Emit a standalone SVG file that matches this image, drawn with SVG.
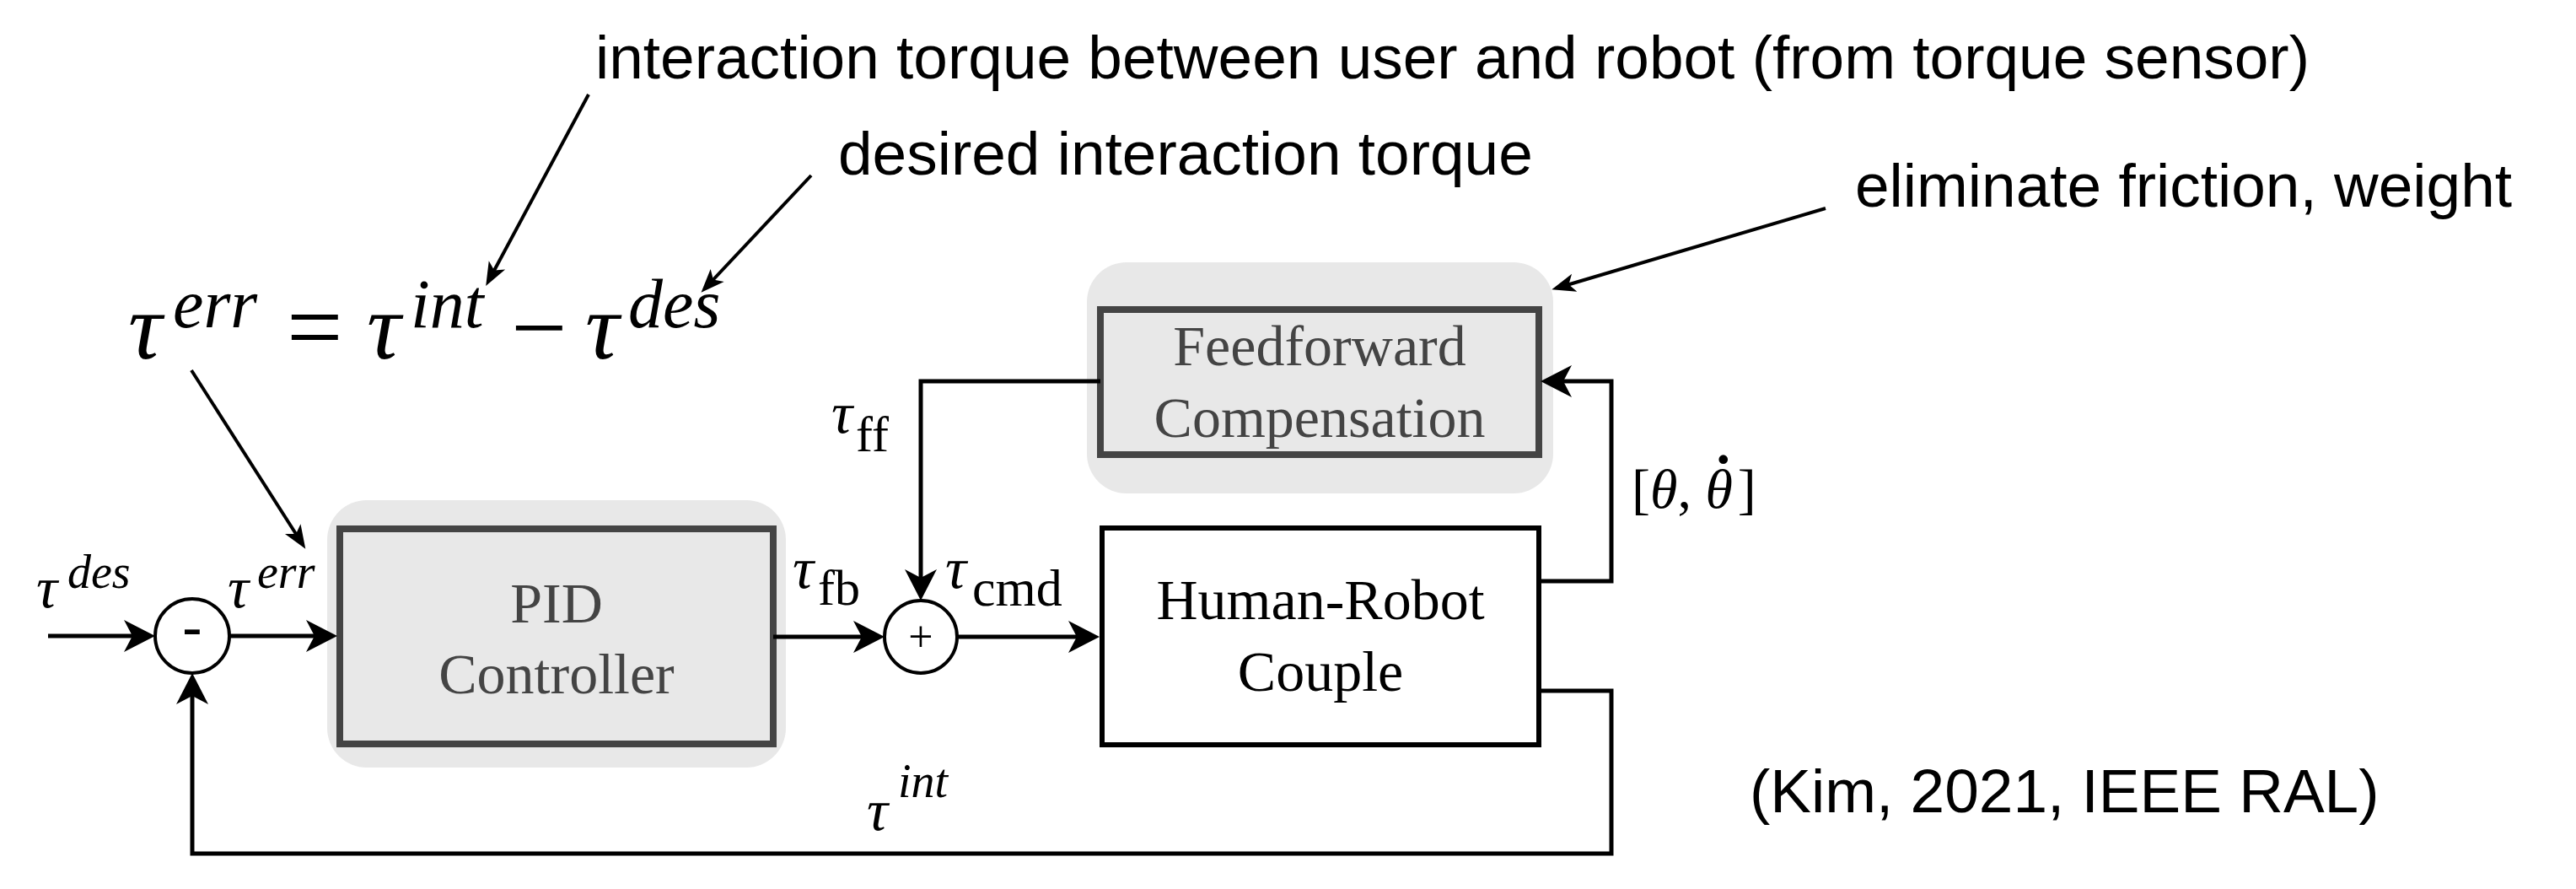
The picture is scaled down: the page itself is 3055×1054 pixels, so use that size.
<svg xmlns="http://www.w3.org/2000/svg" width="3055" height="1054" viewBox="0 0 3055 1054">
<style>
.ann{font-family:"Liberation Sans",Arial,sans-serif;font-size:73px;fill:#000}
.mi{font-family:"Liberation Serif","Times New Roman",serif;font-style:italic;fill:#000}
.mu{font-family:"Liberation Serif","Times New Roman",serif;fill:#000}
.bx{font-family:"Liberation Serif","Times New Roman",serif;font-size:68px;text-anchor:middle}
.bg{fill:#e8e8e8}
.gbox{fill:#e8e8e8;stroke:#444;stroke-width:8}
.wbox{fill:#fff;stroke:#000;stroke-width:6}
.sum{fill:#fff;stroke:#000;stroke-width:4}
.wire{fill:none;stroke:#000;stroke-width:5;marker-end:url(#ah)}
.pt{fill:none;stroke:#000;stroke-width:4;marker-end:url(#ah2)}
</style>
<defs>
<marker id="ah" markerUnits="userSpaceOnUse" viewBox="-38 -20 39 40" refX="-10" refY="0" markerWidth="39" markerHeight="40" orient="auto">
<path d="M0,0 L-37,-19 L-27,0 L-37,19 Z" fill="#000"/>
</marker>
<marker id="ah2" markerUnits="userSpaceOnUse" viewBox="-30 -13 31 26" refX="-8" refY="0" markerWidth="31" markerHeight="26" orient="auto">
<path d="M0,0 L-28,-11 L-21,0 L-28,11 Z" fill="#000"/>
</marker>
</defs>
<rect width="3055" height="1054" fill="#fff"/>

<g id="annotations">
<text class="ann" x="706" y="93">interaction torque between user and robot (from torque sensor)</text>
<text class="ann" x="994" y="207">desired interaction torque</text>
<text class="ann" x="2200" y="245">eliminate friction, weight</text>
<text class="ann" x="2075" y="963">(Kim, 2021, IEEE RAL)</text>
</g>

<g id="equation">
<text class="mi" font-size="112" x="152" y="425">τ</text>
<text class="mi" font-size="82" x="205" y="388">err</text>
<text class="mu" font-size="118" x="340" y="428">=</text>
<text class="mi" font-size="112" x="435" y="425">τ</text>
<text class="mi" font-size="82" x="487" y="388">int</text>
<text class="mu" font-size="118" x="606" y="428">−</text>
<text class="mi" font-size="112" x="694" y="425">τ</text>
<text class="mi" font-size="82" x="745" y="388">des</text>
</g>

<g id="pointers">
<line class="pt" x1="698" y1="112" x2="580" y2="332"/>
<line class="pt" x1="962" y1="208" x2="837" y2="341"/>
<line class="pt" x1="227" y1="439" x2="358" y2="644"/>
<line class="pt" x1="2165" y1="247" x2="1848" y2="341"/>
</g>

<g id="pid">
<rect class="bg" x="388" y="593" width="544" height="317" rx="47"/>
<rect class="gbox" x="403" y="627" width="514" height="255"/>
<text class="bx" x="660" y="738" fill="#444">PID</text>
<text class="bx" x="660" y="822" fill="#444">Controller</text>
</g>

<g id="feedforward">
<rect class="bg" x="1289" y="311" width="553" height="274" rx="47"/>
<rect class="gbox" x="1305" y="367" width="520" height="172"/>
<text class="bx" x="1565" y="433" fill="#444">Feedforward</text>
<text class="bx" x="1565" y="518" fill="#444">Compensation</text>
</g>

<g id="human-robot">
<rect class="wbox" x="1307" y="626" width="518" height="257"/>
<text class="bx" x="1566" y="734" fill="#000">Human-Robot</text>
<text class="bx" x="1566" y="819" fill="#000">Couple</text>
</g>

<g id="sum-minus">
<circle class="sum" cx="228" cy="754" r="44"/>
<text class="ann" x="228" y="768" font-size="44" text-anchor="middle">-</text>
</g>

<g id="sum-plus">
<circle class="sum" cx="1092" cy="755" r="43"/>
<text class="mu" x="1092" y="772" font-size="52" text-anchor="middle">+</text>
</g>

<g id="connectors">
<path class="wire" d="M57,754 H174"/>
<path class="wire" d="M272,754 H390"/>
<path class="wire" d="M917,755 H1039"/>
<path class="wire" d="M1135,755 H1294"/>
<path class="wire" d="M1305,452 H1092 V702"/>
<path class="wire" d="M1825,689 H1911 V452 H1837"/>
<path class="wire" d="M1825,819 H1911 V1012 H228 V808"/>
</g>

<g id="labels">
<text class="mi" font-size="70" x="43" y="720">τ</text>
<text class="mi" font-size="56" x="80" y="697">des</text>
<text class="mi" font-size="70" x="270" y="720">τ</text>
<text class="mi" font-size="56" x="305" y="697">err</text>
<text class="mi" font-size="70" x="940" y="697">τ</text>
<text class="mu" font-size="60" x="970" y="717">fb</text>
<text class="mi" font-size="70" x="1121" y="697">τ</text>
<text class="mu" font-size="62" x="1153" y="718">cmd</text>
<text class="mi" font-size="70" x="986" y="513">τ</text>
<text class="mu" font-size="60" x="1015" y="535">ff</text>
<text class="mi" font-size="70" x="1028" y="984">τ</text>
<text class="mi" font-size="56" x="1065" y="945">int</text>
<text x="1935" y="602" font-size="66"><tspan class="mu">[</tspan><tspan class="mi">θ</tspan><tspan class="mu">, </tspan><tspan class="mi">θ</tspan><tspan class="mu" dx="-22" dy="-36" font-weight="bold">·</tspan><tspan class="mu" dx="6" dy="36">]</tspan></text>
</g>
</svg>
